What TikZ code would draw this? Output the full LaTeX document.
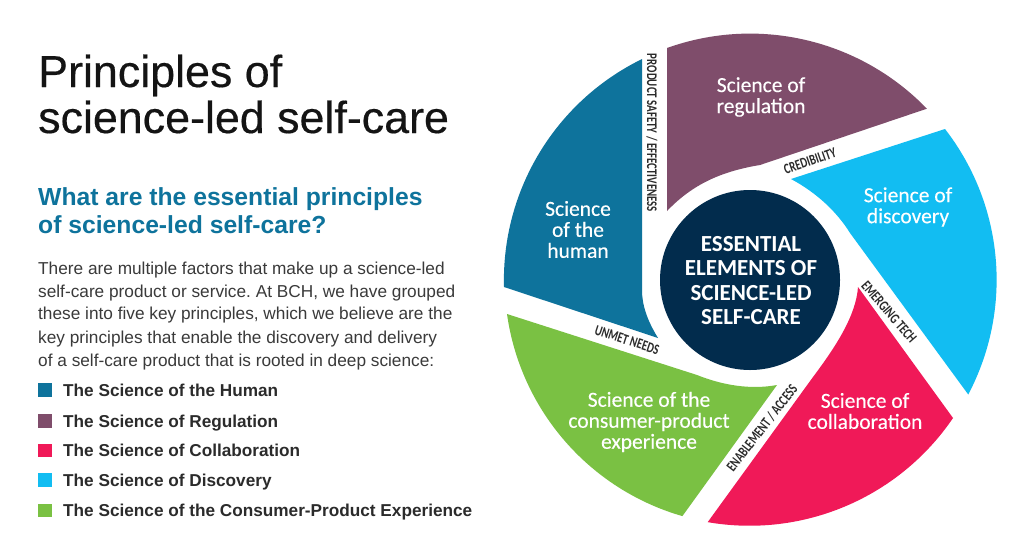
\documentclass[tikz,border=0pt]{standalone}
\usepackage{graphicx}
\usepackage{fontspec}
\setmainfont{Liberation Sans}
\newfontfamily\titlefont[FakeBold=0.35]{Liberation Sans}
\newfontfamily\wheelfont[FakeBold=0.25]{Carlito}
\newfontfamily\corefont{Carlito}
\newfontfamily\tagfont{Carlito}
\newcommand{\tagtext}[1]{\scalebox{0.74}[1]{#1}}
\definecolor{chuman}{HTML}{0E739C}
\definecolor{creg}{HTML}{7F4D6B}
\definecolor{ccollab}{HTML}{F01958}
\definecolor{cdisc}{HTML}{12BDF2}
\definecolor{cgreen}{HTML}{7AC143}
\definecolor{ccore}{HTML}{022C4D}
\definecolor{ink}{HTML}{2B2B2B}
\definecolor{bodyink}{HTML}{3A3A3A}
\tikzset{
  title/.style={anchor=base west,inner sep=0pt,font=\titlefont\fontsize{44.8}{50}\selectfont,text=black!92},
  heading/.style={anchor=base west,inner sep=0pt,font=\fontsize{24.7}{26}\selectfont\bfseries,text=chuman},
  body/.style={anchor=base west,inner sep=0pt,font=\fontsize{17.25}{20}\selectfont\frenchspacing,text=bodyink},
  legendtext/.style={anchor=base west,inner sep=0pt,font=\fontsize{17.2}{20}\selectfont\bfseries,text=ink},
  swatch/.style={anchor=center,inner sep=0pt,minimum size=13.5pt},
  wheellabel/.style={align=center,inner sep=0pt,text=white,font=\wheelfont\fontsize{21.5}{21}\selectfont},
  corelabel/.style={align=center,inner sep=0pt,text=white,font=\corefont\bfseries\fontsize{23}{24.4}\selectfont},
  tag/.style={inner sep=0pt,text=ink,font=\tagfont\bfseries\fontsize{14.7}{16}\selectfont},
}
\begin{document}
\begin{tikzpicture}[x=1pt,y=1pt]
\useasboundingbox (0,-544) rectangle (1024,0);
\fill[white] (0,-544) rectangle (1024,0);
% wheel
\fill[creg] (667,-48) arc[start angle=109.7,end angle=44,radius=246] -- (760,-165)
  .. controls (717,-172) and (690,-187) .. (667,-211) -- cycle;
\fill[cdisc] (945,-129) arc[start angle=37.8,end angle=-27.8,radius=246] -- (850,-233)
  .. controls (837,-212) and (817,-193) .. (791,-179) -- cycle;
\fill[ccollab] (953,-418) arc[start angle=-34.2,end angle=-99.8,radius=246] -- (813,-377)
  .. controls (837,-345) and (856,-315) .. (858,-287) -- cycle;
\fill[cgreen] (507,-314) arc[start angle=188,end angle=253.9,radius=246] -- (777,-385)
  .. controls (750,-390) and (722,-385) .. (697,-375) -- cycle;
\fill[chuman] (504,-287) arc[start angle=181.6,end angle=116,radius=246] -- (642,-290)
  .. controls (642,-305) and (647,-320) .. (658,-338) -- cycle;
\node[circle,fill=ccore,minimum size=180pt,inner sep=0pt] (core) at (750,-280) {};
\node[corelabel] (corelabel) at (751,-280.5) {ESSENTIAL\\ELEMENTS OF\\SCIENCE-LED\\SELF-CARE};
\node[wheellabel] (reg) at (761,-97) {Science of\\regulation};
\node[wheellabel] (human) at (578,-229.5) {Science\\of the\\human};
\node[wheellabel] (disc) at (908,-207) {Science of\\discovery};
\node[wheellabel] (collab) at (865,-411) {Science of\\collaboration};
\node[wheellabel] (cons) at (649,-422) {Science of the\\consumer-product\\experience};
\node[tag,rotate=-90] (t1) at (652,-133) {\tagtext{PRODUCT SAFETY / EFFECTIVENESS}};
\node[tag,rotate=19] (t2) at (810,-161) {\tagtext{CREDIBILITY}};
\node[tag,rotate=-18] (t3) at (627,-340) {\tagtext{UNMET NEEDS}};
\node[tag,rotate=-49] (t4) at (889,-312) {\tagtext{EMERGING TECH}};
\node[tag,rotate=52] (t5) at (762,-428) {\tagtext{ENABLEMENT / ACCESS}};
% left text
\node[title] (a1) at (38,-87) {Principles of};
\node[title] (a2) at (38,-133) {science-led self-care};
\node[heading] (h1) at (38,-205) {What are the essential principles};
\node[heading] (h2) at (38,-233.5) {of science-led self-care?};
\node[body] (b1) at (38,-274) {There are multiple factors that make up a science-led};
\node[body] (b2) at (38,-297) {self-care product or service. At BCH, we have grouped};
\node[body] (b3) at (38,-319.5) {these into five key principles, which we believe are the};
\node[body] (b4) at (38,-343) {key principles that enable the discovery and delivery};
\node[body] (b5) at (38,-366) {of a self-care product that is rooted in deep science:};
\node[swatch,fill=chuman] (s1) at (45,-390) {};
\node[swatch,fill=creg] (s2) at (45,-421) {};
\node[swatch,fill=ccollab] (s3) at (45,-450.5) {};
\node[swatch,fill=cdisc] (s4) at (45,-480) {};
\node[swatch,fill=cgreen] (s5) at (45,-510.5) {};
\node[legendtext] (l1) at (63,-396) {The Science of the Human};
\node[legendtext] (l2) at (63,-427) {The Science of Regulation};
\node[legendtext] (l3) at (63,-456.5) {The Science of Collaboration};
\node[legendtext] (l4) at (63,-486) {The Science of Discovery};
\node[legendtext] (l5) at (63,-516.5) {The Science of the Consumer-Product Experience};
\end{tikzpicture}
\end{document}
